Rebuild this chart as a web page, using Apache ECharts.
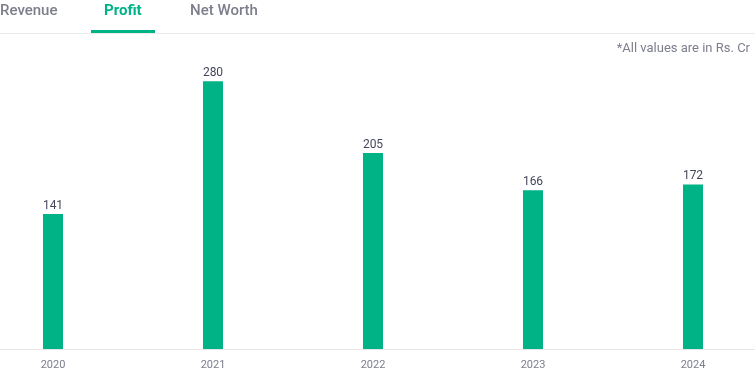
<!DOCTYPE html>
<html>
<head>
<meta charset="utf-8">
<script src="https://cdn.jsdelivr.net/npm/echarts@6/dist/echarts.min.js"></script>
<style>
html,body{margin:0;padding:0;background:#fff;width:755px;height:375px;overflow:hidden;}
#chart{width:800px;height:375px;margin-left:-27px;}
</style>
</head>
<body>
<div id="chart"></div>
<script>
const years = ['2020', '2021', '2022', '2023', '2024'];
const profit = [141, 280, 205, 166, 172];
const tabs = ['Revenue', 'Profit', 'Net Worth'];
const note = '*All values are in Rs. Cr';

const OFF = 27; // horizontal offset of the chart canvas
const chart = echarts.init(document.getElementById('chart'));
const FONT = 'Roboto, "Noto Sans", sans-serif';
chart.setOption({
  animation: false,
  backgroundColor: '#ffffff',
  grid: { left: 0, right: 0, top: 62, bottom: 26 },
  xAxis: {
    type: 'category',
    data: years,
    axisLine: { lineStyle: { color: '#e6e6e6', width: 1 } },
    axisTick: { show: false },
    axisLabel: { color: '#7c7e8c', fontSize: 11, fontFamily: FONT, margin: 11 }
  },
  yAxis: {
    type: 'value', min: 0, max: 300, show: false,
    splitLine: { show: false }
  },
  series: [{
    type: 'bar',
    data: profit,
    barWidth: 20,
    itemStyle: { color: '#00b386' },
    label: {
      show: true, position: 'top', distance: 2,
      color: '#44475b', fontSize: 12, fontFamily: FONT
    }
  }],
  graphic: [
    { type: 'text', left: OFF + 0, top: 4, style: { text: tabs[0], fill: '#7c7e8c', font: '500 15px ' + FONT } },
    { type: 'text', left: OFF + 104, top: 4, style: { text: tabs[1], fill: '#00b386', font: 'bold 15px ' + FONT } },
    { type: 'text', left: OFF + 190, top: 4, style: { text: tabs[2], fill: '#7c7e8c', font: '500 15px ' + FONT } },
    { type: 'rect', shape: { x: OFF, y: 33, width: 755, height: 1 }, style: { fill: '#ebebeb' } },
    { type: 'rect', shape: { x: OFF + 91, y: 30, width: 64, height: 3 }, style: { fill: '#00b386' } },
    { type: 'text', right: 5 + (800 - 755 - OFF), top: 42, style: { text: note, fill: '#7c7e8c', font: '13px ' + FONT } }
  ]
});
</script>
</body>
</html>
